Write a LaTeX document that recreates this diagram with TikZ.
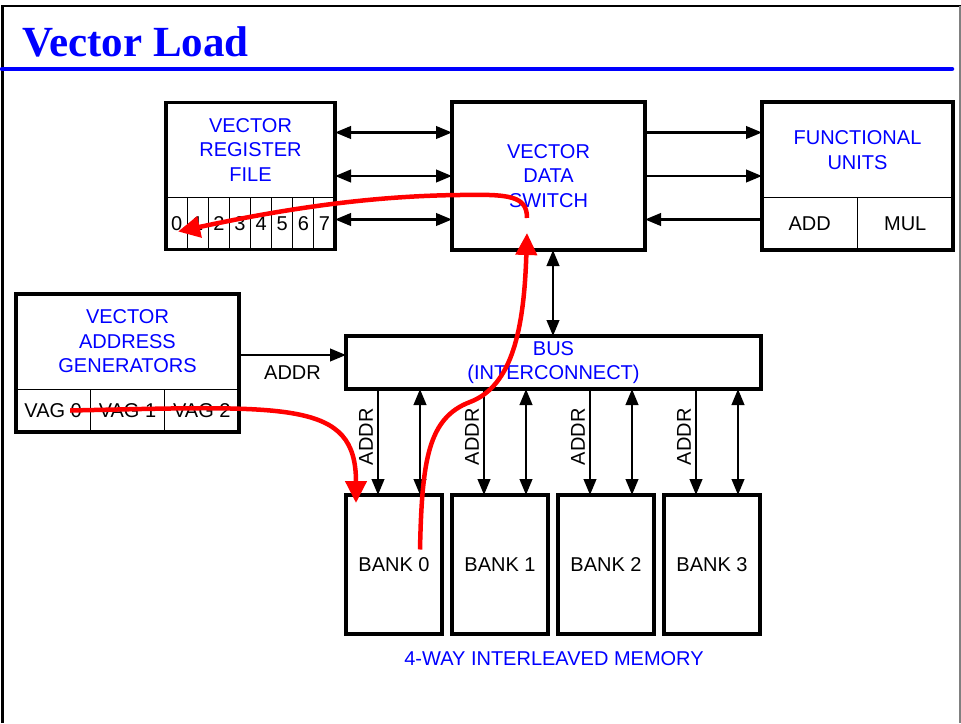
\documentclass[tikz,border=0pt]{standalone}
\usepackage{fontspec}
\setmainfont{Liberation Serif}
\setsansfont{Liberation Sans}
\usepackage{tikz}
\usetikzlibrary{positioning, arrows.meta}

\begin{document}
\begin{tikzpicture}[
  x=1pt, y=-1pt,
  >={Triangle[length=16pt, width=12.5pt]},
  every node/.style={font=\sffamily\fontsize{20}{24.5}\selectfont, align=center, inner sep=0pt},
  box/.style={draw, line width=3.2pt, outer sep=0pt},
  cell/.style={draw, line width=1pt, outer sep=0pt, anchor=south west},
  heading/.style={text=blue},
  link/.style={->, line width=2.5pt},
  dlink/.style={<->, line width=2.5pt},
  redpath/.style={-{Triangle[length=22pt, width=21pt]}, draw=red, line width=4.5pt},
]
\useasboundingbox (0,0) rectangle (961,723);

% Frame and title
\draw[line width=2.8pt] (2.3,723) -- (2.3,6) -- (961,6);
\draw[gray, line width=1.5pt] (960,6) -- (960,723);
\node[font=\rmfamily\bfseries\fontsize{43}{50}\selectfont, text=blue, anchor=base west] (title) at (22,56) {Vector Load};
\draw[blue, line width=4.5pt, line cap=round] (2,69) -- (952,69);

% Top row: register file, data switch, functional units
\node[box, minimum width=169pt, minimum height=147pt] (vrf) at (250.5,176) {};
\node[heading] (vrftxt) at (250.5,150) {VECTOR\\REGISTER\\FILE};
\foreach \i in {0,...,7}
  \node[cell, minimum width=21.125pt, minimum height=52pt] (reg\i) at ([xshift=\i*21.125]vrf.south west) {\i};

\node[box, heading, minimum width=193pt, minimum height=148pt] (vds) at (548.5,176) {VECTOR\\DATA\\SWITCH};

\node[box, minimum width=191pt, minimum height=148pt] (fu) at (857.5,176) {};
\node[heading] (futxt) at (857.5,150) {FUNCTIONAL\\UNITS};
\node[cell, minimum width=95.5pt, minimum height=53pt] (add) at (fu.south west) {ADD};
\node[cell, minimum width=95.5pt, minimum height=53pt] (mul) at ([xshift=95.5]fu.south west) {MUL};

% Address generators and bus
\node[box, minimum width=223pt, minimum height=138pt] (vag) at (127.5,363) {};
\node[heading] (vagtxt) at (127.5,341.5) {VECTOR\\ADDRESS\\GENERATORS};
\foreach \i in {0,1,2}
  \node[cell, minimum width=74.33pt, minimum height=43pt] (vag\i) at ([xshift=\i*74.33]vag.south west) {VAG \i};

\node[box, heading, minimum width=415pt, minimum height=53pt] (bus) at (553.5,362.5) {BUS\\(INTERCONNECT)};

% Memory banks
\node[box, minimum width=96pt, minimum height=139pt] (bank0) at (394,564.5) {BANK 0};
\foreach \i [count=\j from 0] in {1,2,3}
  \node[box, minimum width=96pt, minimum height=139pt, right=10pt of bank\j] (bank\i) {BANK \i};
\node[heading] (memtxt) at (554,659) {4-WAY INTERLEAVED MEMORY};

% Edges
\foreach \dy in {43.5,0,-43.5}
  \draw[dlink] ([yshift=\dy]vrf.east) -- ([yshift=\dy]vds.west);
\draw[link] ([yshift=43.5]vds.east) -- ([yshift=43.5]fu.west);
\draw[link] (vds.east) -- (fu.west);
\draw[link] ([yshift=-43.5]fu.west) -- ([yshift=-43.5]vds.east);
\draw[dlink] ([xshift=4.5]vds.south) -- ([xshift=4.5]vds.south |- bus.north);
\draw[link] ([yshift=8]vag.east) -- node[below=9pt] (addrlbl) {ADDR} ([yshift=8]vag.east -| bus.west);
\foreach \i in {0,...,3} {
  \draw[link] ([xshift=-16]bank\i.north |- bus.south) -- node[pos=0.45, rotate=90, anchor=south, inner sep=4pt] (addr\i) {ADDR} ([xshift=-16]bank\i.north);
  \draw[dlink] ([xshift=26]bank\i.north |- bus.south) -- ([xshift=26]bank\i.north);
}

% Red data flow
\draw[redpath] ([xshift=17]vag0.center) .. controls (290,406) and (356,400) .. ([xshift=-38,yshift=-8]bank0.north);
\draw[redpath] ([xshift=26,yshift=15]bank0.center) .. controls (422,460) and (428,418) .. (470,402)
  .. controls (512,386) and (524,330) .. ([xshift=-21.5,yshift=17]vds.south);
\draw[redpath] ([xshift=-21.5,yshift=32]vds.south) .. controls (527,196) and (510,194) .. (460,195)
  .. controls (360,196) and (270,212) .. ([xshift=1.5,yshift=-8]reg0.center);
\end{tikzpicture}
\end{document}
